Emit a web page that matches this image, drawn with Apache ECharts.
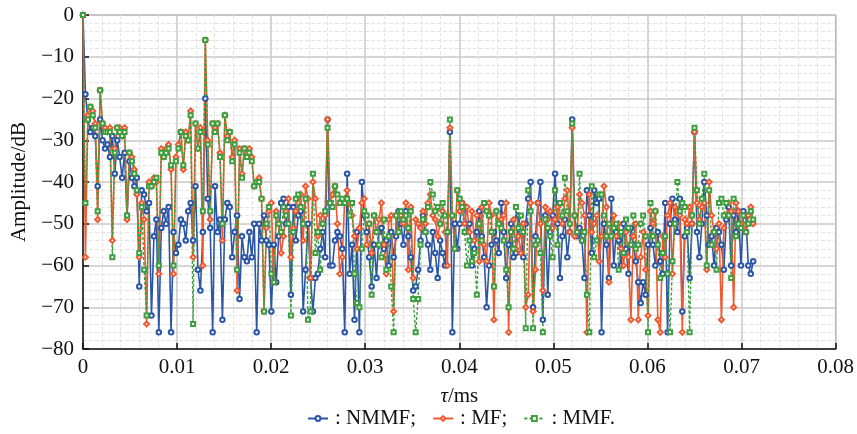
<!DOCTYPE html>
<html><head><meta charset="utf-8">
<script src="https://cdn.jsdelivr.net/npm/echarts@6/dist/echarts.min.js"></script>
<style>html,body{margin:0;padding:0;background:#fff}#c{width:857px;height:434px}</style>
</head><body><div id="c"></div>
<script>
// sample spacing along tau (ms)
const tauStep = 0.00026;
const xTicks = [0, 0.01, 0.02, 0.03, 0.04, 0.05, 0.06, 0.07, 0.08];
const yTicks = [-80, -70, -60, -50, -40, -30, -20, -10, 0];
const seriesNames = ['NMMF', 'MF', 'MMF'];

const nmmf = [
0,-19,-25,-28,-27,-29,-41,-25,-30,-32,
-31,-34,-29,-38,-30,-34,-39,-33,-48,-35,
-39,-41,-39,-65,-42,-43,-47,-45,-72,-53,
-49,-76,-51,-47,-50,-46,-76,-52,-57,-55,
-49,-50,-54,-47,-45,-54,-41,-61,-66,-52,
-20,-44,-51,-76,-41,-52,-49,-73,-49,-45,
-46,-58,-52,-48,-68,-53,-58,-59,-52,-58,
-50,-76,-50,-54,-48,-54,-55,-71,-55,-64,
-53,-45,-44,-50,-46,-67,-46,-54,-48,-47,
-71,-61,-50,-63,-71,-63,-62,-56,-52,-58,
-25,-60,-60,-54,-52,-53,-56,-76,-38,-62,
-55,-73,-52,-76,-40,-48,-52,-58,-65,-55,
-63,-52,-51,-56,-54,-60,-52,-58,-53,-47,
-50,-55,-47,-53,-58,-66,-65,-61,-54,-48,
-52,-55,-61,-52,-57,-63,-54,-57,-60,-52,
-28,-76,-50,-56,-50,-45,-46,-52,-50,-60,
-56,-52,-47,-53,-58,-70,-60,-55,-52,-54,
-57,-45,-52,-63,-55,-50,-58,-57,-48,-52,
-58,-50,-44,-40,-70,-53,-45,-40,-73,-48,
-67,-52,-48,-38,-50,-63,-53,-49,-58,-52,
-25,-48,-53,-51,-54,-63,-42,-48,-57,-42,
-45,-44,-76,-50,-55,-63,-44,-60,-52,-54,
-60,-50,-56,-62,-51,-55,-59,-64,-69,-64,
-67,-55,-51,-55,-60,-52,-59,-62,-45,-76,
-50,-44,-49,-52,-44,-71,-53,-51,-63,-50,
-28,-52,-58,-50,-40,-48,-55,-53,-60,-51,
-52,-55,-61,-49,-46,-60,-48,-52,-47,-60,
-47,-48,-60,-62,-59
];

const mf = [
0,-58,-24,-22,-23,-26,-49,-18,-26,-27,
-28,-27,-54,-32,-27,-27,-29,-27,-49,-33,
-34,-37,-43,-58,-45,-49,-74,-40,-41,-39,
-40,-62,-32,-34,-32,-31,-37,-62,-34,-31,
-28,-37,-28,-30,-23,-58,-26,-32,-27,-60,
-6,-30,-49,-26,-27,-26,-33,-54,-24,-29,
-28,-34,-30,-66,-32,-38,-32,-33,-32,-34,
-41,-40,-39,-44,-71,-51,-47,-45,-64,-47,
-50,-57,-53,-47,-44,-58,-51,-47,-45,-43,
-54,-41,-44,-63,-40,-44,-53,-48,-50,-48,
-25,-45,-43,-41,-50,-62,-58,-44,-42,-45,
-48,-53,-56,-51,-45,-44,-55,-50,-57,-48,
-52,-49,-45,-55,-62,-49,-48,-71,-48,-52,
-48,-50,-45,-61,-46,-63,-49,-50,-51,-47,
-50,-45,-43,-48,-49,-53,-50,-47,-52,-60,
-27,-48,-56,-42,-47,-45,-50,-46,-52,-47,
-54,-48,-59,-46,-55,-59,-45,-48,-73,-47,
-50,-49,-48,-45,-76,-52,-49,-56,-53,-57,
-50,-70,-67,-45,-71,-61,-45,-50,-66,-46,
-49,-47,-51,-49,-46,-48,-50,-44,-42,-52,
-27,-53,-52,-43,-45,-48,-76,-43,-52,-50,
-48,-59,-53,-41,-46,-64,-50,-48,-53,-50,
-56,-60,-52,-58,-73,-53,-50,-73,-58,-52,
-61,-72,-47,-50,-47,-73,-76,-53,-58,-48,
-45,-62,-46,-47,-48,-76,-49,-50,-46,-50,
-28,-45,-49,-46,-45,-61,-40,-48,-52,-56,
-50,-73,-51,-48,-45,-47,-70,-45,-47,-50,
-51,-52,-48,-46,-50
];

const mmf = [
0,-45,-25,-22,-24,-27,-47,-18,-26,-28,
-28,-28,-58,-33,-27,-28,-29,-28,-48,-33,
-35,-38,-42,-57,-46,-61,-72,-41,-41,-40,
-39,-60,-33,-34,-33,-32,-36,-60,-35,-32,
-28,-36,-29,-30,-24,-74,-26,-32,-28,-47,
-6,-31,-47,-26,-28,-26,-34,-50,-24,-30,
-28,-35,-31,-61,-33,-39,-32,-34,-33,-35,
-41,-40,-40,-44,-71,-50,-46,-62,-64,-48,
-50,-52,-46,-48,-50,-72,-52,-44,-43,-46,
-50,-44,-73,-71,-38,-57,-52,-61,-50,-47,
-27,-45,-46,-41,-43,-45,-44,-45,-44,-48,
-45,-62,-69,-70,-56,-47,-48,-50,-67,-48,
-52,-55,-58,-49,-61,-53,-65,-76,-48,-52,
-47,-49,-48,-51,-47,-68,-76,-68,-55,-49,
-52,-46,-40,-43,-47,-46,-50,-45,-48,-52,
-25,-48,-56,-42,-44,-46,-52,-60,-54,-59,
-57,-67,-50,-54,-45,-47,-48,-52,-65,-47,
-50,-51,-54,-61,-70,-52,-56,-46,-51,-48,
-52,-75,-42,-47,-75,-55,-54,-57,-76,-49,
-51,-53,-58,-42,-55,-45,-48,-39,-47,-50,
-26,-48,-52,-38,-54,-52,-67,-76,-41,-58,
-54,-43,-43,-48,-53,-50,-53,-51,-50,-61,
-52,-57,-49,-51,-55,-48,-56,-55,-50,-48,
-53,-76,-45,-53,-47,-55,-63,-57,-53,-62,
-76,-59,-50,-40,-47,-45,-46,-52,-76,-48,
-27,-42,-50,-44,-38,-60,-42,-55,-52,-61,
-45,-44,-48,-45,-48,-63,-44,-53,-50,-51,
-48,-52,-50,-47,-49
];

function pairs(arr) { return arr.map((v, i) => [i * tauStep, v]); }

const serif = 'Liberation Serif';
const fs = 21;
const chart = echarts.init(document.getElementById('c'), null, {renderer: 'canvas'});
const colors = ['#2b56a6', '#f05a30', '#3f9e3f'];
const legendText = {NMMF: ': NMMF;', MF: ': MF;', MMF: ': MMF.'};

chart.setOption({
  animation: false,
  backgroundColor: '#fff',
  grid: {left: 83, right: 20, top: 15, bottom: 85, show: true, borderColor: '#777', borderWidth: 1},
  legend: {
    bottom: 0, left: 302, itemWidth: 20, itemHeight: 6, itemGap: 16,
    textStyle: {fontFamily: serif, fontSize: fs, color: '#111', padding: [0, 0, 0, 2]},
    formatter: n => legendText[n],
    data: seriesNames
  },
  xAxis: {
    type: 'value', min: xTicks[0], max: xTicks[xTicks.length - 1], interval: 0.01,
    name: '{i|τ}/ms', nameLocation: 'middle', nameGap: 37,
    nameTextStyle: {fontFamily: serif, fontSize: fs, color: '#111',
      rich: {i: {fontFamily: serif, fontStyle: 'italic', fontSize: fs, color: '#111'}}},
    axisLine: {onZero: false, lineStyle: {color: '#111', width: 1.5}},
    axisTick: {inside: true, length: 6, lineStyle: {color: '#111', width: 1.5}},
    axisLabel: {fontFamily: serif, fontSize: fs, color: '#111', margin: 8,
      formatter: v => String(Math.round(v * 100) / 100)},
    splitLine: {show: true, lineStyle: {color: '#c8c8c8', width: 1.5}},
    minorTick: {show: false, splitNumber: 5},
    minorSplitLine: {show: true, lineStyle: {color: '#e4e4e4', type: 'dashed', width: 1}}
  },
  yAxis: {
    type: 'value', min: yTicks[0], max: yTicks[yTicks.length - 1], interval: 10,
    name: 'Amplitude/dB', nameLocation: 'middle', nameGap: 53,
    nameTextStyle: {fontFamily: serif, fontSize: fs, color: '#111'},
    axisLine: {onZero: false, lineStyle: {color: '#111', width: 1.5}},
    axisTick: {inside: true, length: 6, lineStyle: {color: '#111', width: 1.5}},
    axisLabel: {fontFamily: serif, fontSize: fs, color: '#111', margin: 9,
      formatter: v => v < 0 ? '\u2212' + (-v) : String(v)},
    splitLine: {show: true, lineStyle: {color: '#c8c8c8', width: 1.5}},
    minorTick: {show: false, splitNumber: 5},
    minorSplitLine: {show: true, lineStyle: {color: '#e4e4e4', type: 'dashed', width: 1}}
  },
  series: [
    {name: seriesNames[0], type: 'line', data: pairs(nmmf), symbol: 'emptyCircle', symbolSize: 4.5,
     color: colors[0], lineStyle: {width: 1.6}, itemStyle: {borderWidth: 1.2}},
    {name: seriesNames[1], type: 'line', data: pairs(mf), symbol: 'emptyDiamond', symbolSize: 5,
     color: colors[1], lineStyle: {width: 1.6}, itemStyle: {borderWidth: 1.2}},
    {name: seriesNames[2], type: 'line', data: pairs(mmf), symbol: 'emptyRect', symbolSize: 4,
     color: colors[2], lineStyle: {width: 1.4, type: [3, 2]}, itemStyle: {borderWidth: 1.1}}
  ]
});
</script></body></html>
